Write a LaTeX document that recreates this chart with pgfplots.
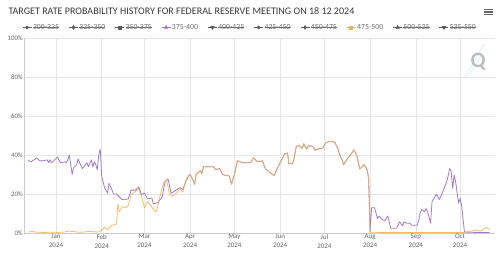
\documentclass[border=0pt]{standalone}
\usepackage{pgfplots}
\pgfplotsset{compat=1.18}
\usepackage{pgfplotstable}
\usepackage{fontspec}
\setmainfont{Carlito}

\definecolor{gridc}{HTML}{E6E6E6}
\definecolor{axisc}{HTML}{CCCCCC}
\definecolor{tickc}{HTML}{666666}
\definecolor{titlec}{HTML}{3A3A3A}
\definecolor{legc}{HTML}{707070}
\definecolor{hidc}{HTML}{5A5A5A}
\definecolor{purp}{RGB}{160,124,200}
\definecolor{oran}{RGB}{240,178,88}
\definecolor{qgray}{HTML}{BDBDBD}
\definecolor{qblue}{HTML}{CFEDF8}

% struck-through legend text for hidden ranges
\newsavebox\stbox
\newcommand{\st}[1]{\sbox\stbox{#1}\rlap{\rule[0.27em]{\wd\stbox}{0.5bp}}\usebox\stbox}

% day 0 = 1 Jan 2024; values in percent
\pgfplotstableread{
day val
-19 37.4
-17 36.4
-16 37
-13 38.5
-11 37
-9 37
-6 37.5
-5 36
-4 37.5
-3 36
-1 37.5
1 39
3 36
6 36.5
7 36
8 37.5
9 40
11 30
12 33.5
14 35
15 38
16 36
18 33
20 35
21 36
22 34
24 37.5
25 34
26 36.5
27 35
28 32.5
29 40
30 43
31 29
33 23
35 20.5
36 25.5
38 22
39 20
41 20
43 18.5
45 17
49 17.5
51 22
54 22
56 23.6
58 19.7
60 20.5
62 17.5
65 18
66 15
69 15.6
72 18.4
74 26.5
76 27.7
78 20.5
79 20.8
82 22.3
84 23.2
86 22.3
88 26.5
90 29.5
91 30
93 27
94 25
95 30
98 32
99 30.5
100 34
103 34
107 34
108 32.5
111 33
113 30
115 29.5
117 29.5
118 28
119 25
121 30
123 37
125 36.5
127 36
130 36
132 36.2
134 38.5
136 37
137 36.6
140 37
142 33
145 31
148 29.5
150 33
153 37.5
155 40.5
157 41
158 35.5
160 35.5
161 36.6
163 44.5
165 44.8
167 43.4
168 45.8
170 43
171 44.8
174 44.4
176 42.4
177 43
181 43.6
183 46.3
185 46.8
187 47
189 46.5
191 43.6
193 39
194 37.6
195 35
198 38.5
201 41.4
202 42.7
204 39.7
206 32.8
208 34.2
209 35
211 32.5
212 28.2
213 0.4
214 13
216 13
218 7.5
219 8.7
221 7
223 6.3
225 8.7
227 2.4
231 2.4
233 5.8
235 3.6
236 5.8
238 5
240 5
241 4
245 4
246 6.7
247 10.4
248 12
250 10.9
251 12.6
252 10.9
254 5
255 16.1
257 18.6
258 19.9
260 17.2
262 20.6
264 24.6
265 26.3
267 33.1
268 31.4
269 22.9
270 29.7
271 26.3
273 15.2
274 17.8
275 14.4
277 0.5
284 0.3
294 0.3
}\rateA

\pgfplotstableread{
day val
-19 0.5
-16 0.8
-13 0.4
-8 0.3
-3 0.4
2 0.3
6 0.5
8 0.9
12 0.8
15 0.4
19 0.5
22 0.8
26 0.6
29 0.5
31 1.5
33 3
35 1.7
38 4
40 4.5
41 4.5
42 15
43 11
45 13.5
47 13
49 14
51 19.7
54 21.4
56 22.6
58 18.8
60 13
62 16
64 14.6
66 12
68 11
69 13.7
71 20.5
73 25.6
75 27.3
77 19.7
79 19
82 20.8
84 22.6
86 21
88 26.5
90 29.5
91 30
93 27
94 25
95 30
98 32
99 30.5
100 34
103 34
107 34
108 32.5
111 33
113 30
115 29.5
117 29.5
118 28
119 25
121 30
123 37
125 36.5
127 36
130 36
132 36.2
134 38.5
136 37
137 36.6
140 37
142 33
145 31
148 29.5
150 33
153 37.5
155 40.5
157 41
158 35.5
160 35.5
161 36.6
163 44.5
165 44.8
167 43.4
168 45.8
170 43
171 44.8
174 44.4
176 42.4
177 43
181 43.6
183 46.3
185 46.8
187 47
189 46.5
191 43.6
193 39
194 37.6
195 35
198 38.5
201 41.4
202 42.7
204 39.7
206 32.8
208 34.2
209 35
211 32.5
212 28.2
213 0.4
220 0.3
230 0.3
240 0.3
250 0.3
260 0.3
270 0.3
277 0.3
279 0.6
283 1.2
285 1.5
288 1
290 2
292 2.8
294 1.8
}\rateB

\begin{document}
\begin{tikzpicture}
\useasboundingbox (-24bp,-27bp) rectangle (476bp,233bp);
\fill[white] (-24bp,-27bp) rectangle (476bp,233bp);

\node[anchor=base west, font=\fontsize{10.1}{11}\selectfont, text=titlec]
  at (-19bp,218bp) {TARGET RATE PROBABILITY HISTORY FOR FEDERAL RESERVE MEETING ON 18 12 2024};

% menu icon
\foreach \yy in {223.5,221,218.5}
  \draw[line width=1.1bp, color=tickc] (460bp,\yy bp) -- (469bp,\yy bp);

\begin{axis}[
  at={(0,0)}, anchor=south west,
  scale only axis, width=471bp, height=195bp,
  xmin=-21.7, xmax=297.7, ymin=0, ymax=100,
  xtick={0,31,60,91,121,152,182,213,244,274},
  xticklabels={Jan\\2024,Feb\\2024,Mar\\2024,Apr\\2024,May\\2024,Jun\\2024,Jul\\2024,Aug\\2024,Sep\\2024,Oct\\2024},
  xticklabel style={align=center, font=\fontsize{7}{9}\selectfont, text=tickc, inner sep=1bp},
  ytick={0,20,40,60,80,100},
  yticklabels={0\%,20\%,40\%,60\%,80\%,100\%},
  yticklabel style={font=\fontsize{6.8}{7}\selectfont, text=tickc, inner sep=1bp},
  grid=major, major grid style={draw=gridc, line width=0.6bp},
  axis x line*=bottom, axis y line*=left,
  axis line style={draw=axisc, line width=0.6bp},
  major tick length=0pt,
  legend columns=10,
  legend image code/.code={%
    \draw[mark repeat=2, mark phase=2, line width=0.7bp, #1]
      plot coordinates {(0bp,0bp) (4.5bp,0bp) (9bp,0bp)};},
  legend style={at={(rel axis cs:-0.004,1.054)}, anchor=west, draw=none, fill=none,
    font=\fontsize{7.8}{8}\selectfont, text=legc, inner sep=0pt,
    nodes={inner sep=1bp},
    /tikz/every even column/.append style={column sep=8.6bp}},
  legend cell align=left,
]
\addlegendimage{hidc, mark=*, mark size=1.5bp}
\addlegendentry{\st{300-325}}
\addlegendimage{hidc, mark=diamond*, mark size=1.8bp}
\addlegendentry{\st{325-350}}
\addlegendimage{hidc, mark=square*, mark size=1.5bp}
\addlegendentry{\st{350-375}}
\addlegendimage{purp, mark=triangle*, mark size=1.8bp}
\addlegendentry{375-400}
\addlegendimage{hidc, mark=triangle*, mark size=1.8bp, mark options={rotate=180}}
\addlegendentry{\st{400-425}}
\addlegendimage{hidc, mark=*, mark size=1.5bp}
\addlegendentry{\st{425-450}}
\addlegendimage{hidc, mark=diamond*, mark size=1.8bp}
\addlegendentry{\st{450-475}}
\addlegendimage{oran, mark=square*, mark size=1.5bp}
\addlegendentry{475-500}
\addlegendimage{hidc, mark=triangle*, mark size=1.8bp}
\addlegendentry{\st{500-525}}
\addlegendimage{hidc, mark=triangle*, mark size=1.8bp, mark options={rotate=180}}
\addlegendentry{\st{525-550}}

\addplot[forget plot, purp, line width=0.8bp, line join=round] table[x=day, y=val] {\rateA};
\addplot[forget plot, oran, opacity=0.85, line width=0.8bp, line join=round] table[x=day, y=val] {\rateB};

% watermark
\draw[qblue, line width=0.6bp] (rel axis cs:0.936,0.80) -- (rel axis cs:0.978,0.97);
\draw[qblue, line width=0.5bp] (rel axis cs:0.946,0.81) -- (rel axis cs:0.970,0.91);
\node[font=\fontsize{22}{22}\selectfont\bfseries, text=qgray] at (rel axis cs:0.964,0.877) {Q};
\end{axis}
\end{tikzpicture}
\end{document}
